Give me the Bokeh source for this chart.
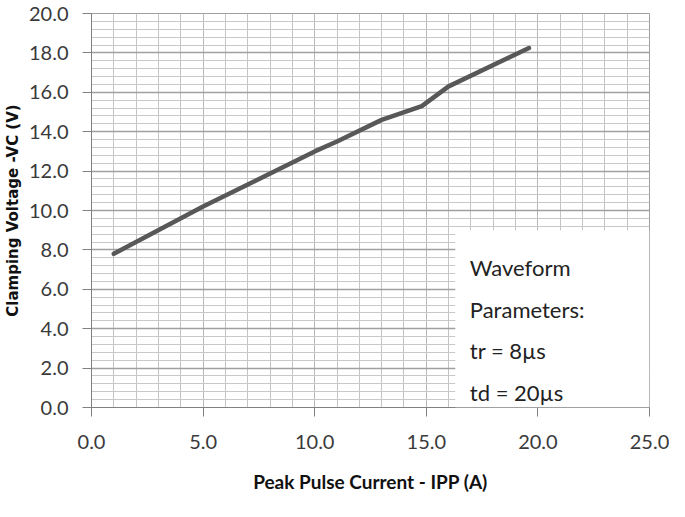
from bokeh.plotting import figure
from bokeh.models import SingleIntervalTicker, BoxAnnotation, Label, Range1d, NumeralTickFormatter
from bokeh.embed import file_html
from bokeh.resources import INLINE

# Data
ipp = [1.0, 5.0, 10.0, 11.0, 13.0, 14.8, 16.0, 19.6]
vc = [7.8, 10.2, 13.0, 13.5, 14.6, 15.3, 16.3, 18.25]
legend_lines = ["Waveform", "Parameters:", "tr = 8\u00b5s", "td = 20\u00b5s"]
legend_y = [7.1, 4.97, 2.89, 0.76]

FONT = "Lato"

p = figure(width=669, height=501, output_backend="svg", toolbar_location=None,
           x_range=Range1d(0, 25), y_range=Range1d(0, 20))
p.min_border_left = 85
p.min_border_right = 20
p.min_border_top = 13
p.min_border_bottom = 94
p.background_fill_color = "white"
p.border_fill_color = "white"
p.outline_line_color = "#a0a0a0"
p.outline_line_width = 1

xt = SingleIntervalTicker(interval=5, num_minor_ticks=5)
yt = SingleIntervalTicker(interval=2, num_minor_ticks=5)
p.xaxis.ticker = xt
p.yaxis.ticker = yt
p.xgrid.ticker = xt
p.ygrid.ticker = yt

p.xgrid.grid_line_color = "#b8b8b8"
p.xgrid.minor_grid_line_color = "#c4c4c4"
p.ygrid.grid_line_color = "#a0a0a0"
p.ygrid.minor_grid_line_color = "#c8c8c8"
p.xgrid.grid_line_width = 1
p.ygrid.grid_line_width = 1.3

for ax in (p.xaxis, p.yaxis):
    ax.axis_line_color = "#808080"
    ax.major_tick_line_color = "#808080"
    ax.minor_tick_line_color = None
    ax.major_tick_out = 9
    ax.major_tick_in = 0
    ax.major_label_text_font = FONT
    ax.major_label_text_font_size = "20px"
    ax.major_label_text_color = "#3a3a3a"
    ax.axis_label_text_font_style = "bold"
    ax.axis_label_text_color = "#111111"

p.xaxis.formatter = NumeralTickFormatter(format="0.0")
p.yaxis.formatter = NumeralTickFormatter(format="0.0")

p.xaxis.axis_label = "Peak Pulse Current - IPP (A)"
p.xaxis.axis_label_text_font = FONT
p.xaxis.axis_label_text_font_size = "19px"
p.xaxis.major_label_standoff = 18
p.xaxis.axis_label_standoff = 18

p.yaxis.axis_label = "Clamping Voltage -VC (V)"
p.yaxis.axis_label_text_font = "DejaVu Sans"
p.yaxis.axis_label_text_font_size = "15px"
p.yaxis.major_label_standoff = 14
p.yaxis.axis_label_standoff = 4

p.line(ipp, vc, line_color="#585858", line_width=4.5, line_cap="round")

box = BoxAnnotation(left=16.3, top=9.0, fill_color="white", fill_alpha=1.0,
                    line_color=None)
p.add_layout(box)

for txt, yy in zip(legend_lines, legend_y):
    p.add_layout(Label(x=16.95, y=yy, text=txt, text_font=FONT,
                       text_font_size="22px", text_color="#222222",
                       text_baseline="middle", text_align="left"))

open("out.html", "w").write(file_html(p, INLINE))
